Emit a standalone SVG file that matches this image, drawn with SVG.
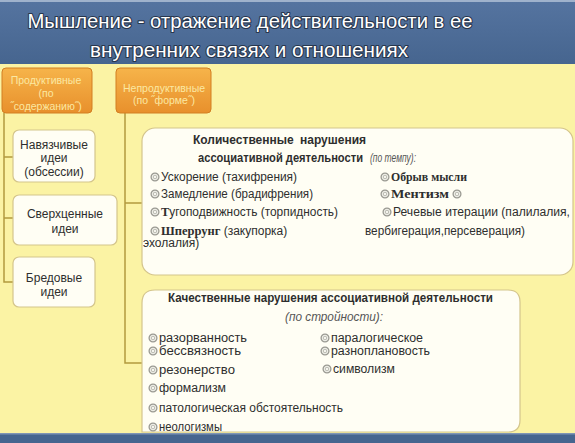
<svg xmlns="http://www.w3.org/2000/svg" xmlns:xlink="http://www.w3.org/1999/xlink" width="575" height="443" viewBox="0 0 575 443">
<defs>
<linearGradient id="bar" x1="0" y1="0" x2="0" y2="1">
<stop offset="0" stop-color="#5574a0"/><stop offset="1" stop-color="#46658f"/>
</linearGradient>
<linearGradient id="org" x1="0" y1="0" x2="0" y2="1">
<stop offset="0" stop-color="#f6b44a"/><stop offset="1" stop-color="#e8902c"/>
</linearGradient>
<g id="ic"><circle r="3.9" fill="#f5f5ee" stroke="#9a9a92" stroke-width="1.3"/><circle r="1.8" fill="none" stroke="#a8a8a0" stroke-width="0.8"/></g>
<style>
.t{font-family:"Liberation Sans",Arial,sans-serif;font-size:12px;fill:#2e2e2e}
.b{font-weight:bold}
.s{font-family:"Liberation Serif","Times New Roman",serif;font-weight:bold;font-size:12.5px;fill:#2e2e2e}
.i{font-style:italic;fill:#555}
.ttl{font-family:"Liberation Sans",Arial,sans-serif;font-size:21px;fill:#ffffff;stroke:#27364d;stroke-width:2.2px;paint-order:stroke;stroke-linejoin:round;text-anchor:middle}
.o{font-family:"Liberation Sans",Arial,sans-serif;font-size:10.5px;fill:#fbe8a2;text-anchor:middle}
.box{fill:#fffef4;stroke:#d4c58c;stroke-width:1.2}
.ob{fill:url(#org);stroke:#d27e22;stroke-width:1}
.c{fill:none;stroke:#b39a3e;stroke-width:1.5}
.m{text-anchor:middle}
</style>
</defs>
<rect x="0" y="0" width="575" height="443" fill="#fbf3a4"/>
<g id="header">
<rect x="0" y="0" width="575" height="64" fill="url(#bar)"/>
<rect x="0" y="0" width="575" height="2" fill="#9fb2cc"/>
<text class="ttl" x="250" y="28" textLength="445" lengthAdjust="spacingAndGlyphs">Мышление - отражение действительности в ее</text>
<text class="ttl" x="249" y="57" textLength="318" lengthAdjust="spacingAndGlyphs">внутренних связях и отношениях</text>
</g>
<g id="footer">
<rect x="0" y="433" width="575" height="10" fill="#46658f"/>
<rect x="0" y="433" width="575" height="1.5" fill="#7f95b5"/>
</g>
<g id="connectors">
<path class="c" d="M4 113 V282 H13 M4 157 H13 M4 218 H13"/>
<path class="c" d="M125 113 V363 H142 M125 203 H142"/>
</g>
<g id="productive">
<rect class="ob" x="2" y="68" width="90" height="45" rx="4"/>
<text class="o" x="46" y="84">Продуктивные</text>
<text class="o" x="46" y="97">(по</text>
<text class="o" x="46" y="110">˝содержанию˝)</text>
</g>
<g id="unproductive">
<rect class="ob" x="116" y="68" width="95" height="45" rx="4"/>
<text class="o" x="164" y="92">Непродуктивные</text>
<text class="o" x="164" y="104">(по ˝форме˝)</text>
</g>
<g id="obsessive">
<rect class="box" x="13" y="130" width="82" height="52" rx="6"/>
<text class="t m" x="54" y="149">Навязчивые</text>
<text class="t m" x="54" y="162">идеи</text>
<text class="t m" x="54" y="176">(обсессии)</text>
</g>
<g id="overvalued">
<rect class="box" x="13" y="195" width="104" height="50" rx="6"/>
<text class="t m" x="65" y="218">Сверхценные</text>
<text class="t m" x="65" y="233">идеи</text>
</g>
<g id="delusional">
<rect class="box" x="13" y="257" width="82" height="50" rx="6"/>
<text class="t m" x="54" y="282">Бредовые</text>
<text class="t m" x="54" y="296">идеи</text>
</g>
<g id="quantitative">
<rect class="box" x="142" y="128" width="431" height="147" rx="13"/>
<text class="t b" x="193" y="144">Количественные</text>
<text class="t b" x="300" y="144">нарушения</text>
<text class="t b" x="198" y="162" textLength="165" lengthAdjust="spacingAndGlyphs">ассоциативной деятельности</text>
<text class="t i" x="370" y="162" textLength="46" lengthAdjust="spacingAndGlyphs">(по темпу):</text>
<use xlink:href="#ic" x="155" y="177"/>
<text class="t" x="161" y="181" textLength="136" lengthAdjust="spacingAndGlyphs">Ускорение (тахифрения)</text>
<use xlink:href="#ic" x="155" y="194"/>
<text class="t" x="161" y="198" textLength="152" lengthAdjust="spacingAndGlyphs">Замедление (брадифрения)</text>
<use xlink:href="#ic" x="155" y="212"/>
<text class="t" x="161" y="216" textLength="177" lengthAdjust="spacingAndGlyphs"><tspan class="s">Т</tspan>угоподвижность (торпидность)</text>
<use xlink:href="#ic" x="155" y="231"/>
<text class="t" x="161" y="235"><tspan class="s">Шперрунг</tspan> (закупорка)</text>
<text class="t" x="143" y="247">эхолалия)</text>
<use xlink:href="#ic" x="385" y="177"/>
<text class="s" x="391" y="181" textLength="76" lengthAdjust="spacingAndGlyphs">Обрыв мысли</text>
<use xlink:href="#ic" x="385" y="194"/>
<text class="s" x="391" y="198" textLength="58" lengthAdjust="spacingAndGlyphs">Ментизм</text>
<use xlink:href="#ic" x="457" y="194"/>
<use xlink:href="#ic" x="387" y="212"/>
<text class="t" x="393" y="216" textLength="177" lengthAdjust="spacingAndGlyphs">Речевые итерации (палилалия,</text>
<text class="t" x="365" y="235" textLength="160" lengthAdjust="spacingAndGlyphs">вербигерация,персеверация)</text>
</g>
<g id="qualitative">
<path class="box" d="M142 432 V303 Q142 290 155 290 H508 Q520 290 520 302 V420 Q520 432 508 432 Z"/>
<text class="t b" x="168" y="302" textLength="325" lengthAdjust="spacingAndGlyphs">Качественные нарушения ассоциативной деятельности</text>
<text class="t i" x="285" y="321" textLength="98" lengthAdjust="spacingAndGlyphs">(по стройности):</text>
<use xlink:href="#ic" x="153" y="338"/>
<text class="t" x="159" y="342" textLength="88" lengthAdjust="spacingAndGlyphs">разорванность</text>
<use xlink:href="#ic" x="153" y="351"/>
<text class="t" x="159" y="355" textLength="82" lengthAdjust="spacingAndGlyphs">бессвязность</text>
<use xlink:href="#ic" x="153" y="370"/>
<text class="t" x="159" y="374" textLength="76" lengthAdjust="spacingAndGlyphs">резонерство</text>
<use xlink:href="#ic" x="153" y="388"/>
<text class="t" x="159" y="392" textLength="67" lengthAdjust="spacingAndGlyphs">формализм</text>
<use xlink:href="#ic" x="153" y="408"/>
<text class="t" x="159" y="412" textLength="184" lengthAdjust="spacingAndGlyphs">патологическая обстоятельность</text>
<use xlink:href="#ic" x="153" y="427"/>
<text class="t" x="159" y="431" textLength="63" lengthAdjust="spacingAndGlyphs">неологизмы</text>
<use xlink:href="#ic" x="325" y="338"/>
<text class="t" x="331" y="342" textLength="92" lengthAdjust="spacingAndGlyphs">паралогическое</text>
<use xlink:href="#ic" x="325" y="351"/>
<text class="t" x="331" y="355" textLength="99" lengthAdjust="spacingAndGlyphs">разноплановость</text>
<use xlink:href="#ic" x="327" y="369"/>
<text class="t" x="333" y="373" textLength="62" lengthAdjust="spacingAndGlyphs">символизм</text>
</g>
</svg>
